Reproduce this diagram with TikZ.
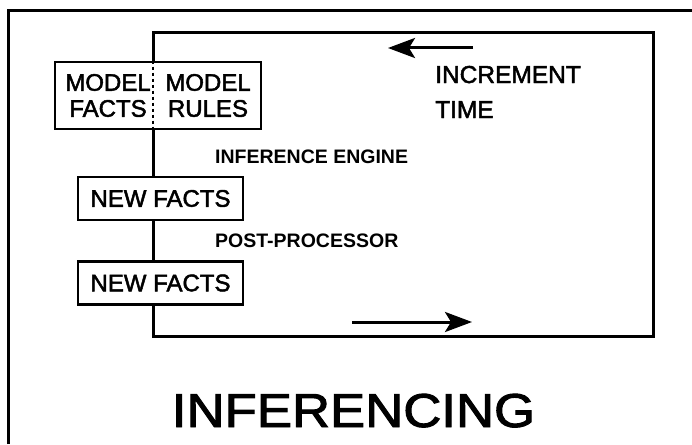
\documentclass[tikz,border=0pt]{standalone}
\usepackage{fontspec}
\setmainfont{Liberation Sans}
\newfontfamily\medfont[FakeBold=2]{Liberation Sans}
\usetikzlibrary{arrows.meta}
\begin{document}
\begin{tikzpicture}[x=1pt,y=-1pt,
  loopline/.style={line width=3pt, line join=miter},
  framebox/.style={draw, line width=2.8pt, fill=white, inner sep=0pt, font=\medfont\fontsize{24}{26}\selectfont},
  boxtext/.style={font=\medfont\fontsize{24}{26}\selectfont, align=center, inner sep=0pt},
  lbl/.style={font=\bfseries\fontsize{19.5}{21}\selectfont, anchor=base west, inner sep=0pt},
  flow/.style={line width=3pt, -{Stealth[length=27pt,width=20pt,inset=6pt]}}]
\useasboundingbox (0,0) rectangle (692,444);
% outer frame (cropped: only top and left sides visible)
\draw[line width=3pt, line join=miter] (8,444) -- (8,11) -- (692,11);
% loop corners
\coordinate (tl) at (153,33);
\coordinate (tr) at (653,33);
\coordinate (br) at (653,336);
\coordinate (bl) at (153,336);
% boxes
\node[framebox, minimum width=206pt, minimum height=67pt] (mb) at (158,95.5) {};
\node[framebox, minimum width=165pt, minimum height=43pt] (nf1) at (160.5,198.5) {NEW FACTS};
\node[framebox, minimum width=165pt, minimum height=43pt] (nf2) at (160.5,283) {NEW FACTS};
\node[boxtext] (mf) at (108,95.5) {MODEL\\FACTS};
\node[boxtext] (mr) at (208,95.5) {MODEL\\RULES};
% loop
\draw[loopline] (mb.north -| tl) -- (tl) -- (tr) -- (br) -- (bl) -- (nf2.south -| bl);
\draw[loopline] (nf2.north -| bl) -- (nf1.south -| bl);
\draw[loopline] (nf1.north -| bl) -- (mb.south -| bl);
\draw[line width=2.5pt, dash pattern=on 3pt off 3pt] (mb.north -| tl) -- (mb.south -| tl);
% direction arrows
\coordinate (a1s) at (473,48);
\coordinate (a1e) at (388,48);
\coordinate (a2s) at (352,322);
\coordinate (a2e) at (472,322);
\draw[flow] (a1s) -- (a1e);
\draw[flow] (a2s) -- (a2e);
% labels
\node[lbl] (ie) at (215,163) {INFERENCE ENGINE};
\node[lbl] (pp) at (215,247) {POST-PROCESSOR};
\node[font=\medfont\fontsize{24.5}{35}\selectfont, align=left, anchor=base west, inner sep=0pt] (it) at (435,118) {INCREMENT\\TIME};
\node[font=\medfont\fontsize{47.5}{50}\selectfont, anchor=base, inner sep=0pt, xscale=1.11] (title) at (353.5,427) {INFERENCING};
\end{tikzpicture}
\end{document}
